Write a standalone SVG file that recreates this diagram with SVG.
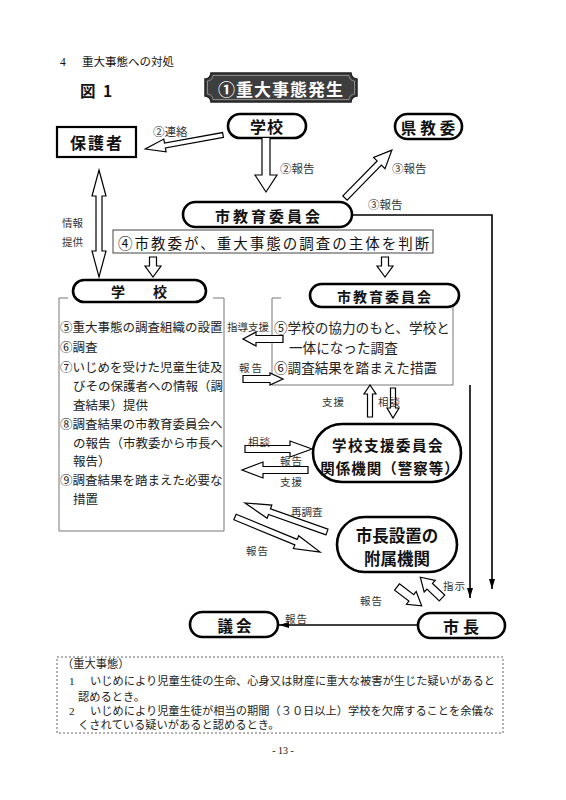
<svg xmlns="http://www.w3.org/2000/svg" width="566" height="800" viewBox="0 0 566 800">
<style>
text{font-family:'Noto Sans CJK JP','Noto Sans',sans-serif;fill:#111;dominant-baseline:central}
.serif{font-family:'Liberation Serif','Noto Sans CJK JP',serif}
.pill{fill:#fff;stroke:#000;stroke-width:2.6}
.nb{font-weight:bold;text-anchor:middle}
.ha{fill:#fff;stroke:#000;stroke-width:1.2;stroke-linejoin:miter}
.ln{fill:none;stroke:#000;stroke-width:1.6}
.lbl{font-size:10.5px;fill:#333}
.lbl2{font-size:11.5px;fill:#333}
.box{fill:none;stroke:#777;stroke-width:1}
.bt{font-size:12.5px;fill:#222}
.rt{font-size:13.6px;fill:#222}
.note{font-size:11.25px;fill:#222}
</style>
<defs>
<marker id="ah" viewBox="0 0 10 6" refX="10" refY="3" markerWidth="10" markerHeight="6" markerUnits="userSpaceOnUse" orient="auto">
<path d="M0,0 L10,3 L0,6 Z" fill="#000"/>
</marker>
</defs>
<rect width="566" height="800" fill="#fff"/>

<g id="heading">
<text class="serif" x="60" y="62" font-size="11.5">4</text>
<text class="serif" x="82" y="62" font-size="11.5">重大事態への対処</text>
<text x="80" y="90" font-size="15.5" font-weight="bold">図</text>
<text x="103" y="90" font-size="15.5" font-weight="bold">1</text>
</g>

<g id="title">
<path d="M211,73 H351 A6,6 0 0 0 357,79 V96 A6,6 0 0 0 351,102 H211 A6,6 0 0 0 205,96 V79 A6,6 0 0 0 211,73 Z" fill="#3e3e3e" stroke="#222" stroke-width="1.5"/>
<path d="M213,75.5 H349 A6,6 0 0 0 354.5,81 V94 A6,6 0 0 0 349,99.5 H213 A6,6 0 0 0 207.5,94 V81 A6,6 0 0 0 213,75.5 Z" fill="none" stroke="#9a9a9a" stroke-width="0.8"/>
<text class="nb" x="281" y="88" font-size="17" letter-spacing="1" style="fill:#fff">①重大事態発生</text>
</g>

<g id="school-top">
<rect class="pill" x="228" y="114" width="78" height="24" rx="12"/>
<text class="nb" x="267" y="126" font-size="16" letter-spacing="1">学校</text>
</g>

<g id="guardian">
<rect x="57" y="127" width="79" height="30" fill="#fff" stroke="#000" stroke-width="2.2"/>
<text class="nb" x="97" y="142" font-size="16" letter-spacing="2">保護者</text>
</g>

<g id="pref-board">
<rect class="pill" x="395" y="114" width="67" height="25" rx="12.5"/>
<text class="nb" x="430" y="126.5" font-size="15.5" letter-spacing="4">県教委</text>
</g>

<g id="city-board">
<rect class="pill" x="183" y="202" width="169" height="25" rx="12.5"/>
<text class="nb" x="269" y="215" font-size="15" letter-spacing="3">市教育委員会</text>
</g>

<g id="decision">
<rect x="113" y="230" width="320" height="23" fill="#fff" stroke="#444" stroke-width="1"/>
<text x="118" y="242" font-size="14.5" letter-spacing="2">④市教委が、重大事態の調査の主体を判断</text>
</g>

<g id="school-box">
<path class="box" d="M68,298 H59 V531 H224 V298 H213"/>
<rect class="pill" x="73" y="280" width="133" height="22" rx="11"/>
<text class="nb" x="139" y="291" font-size="14">学　　校</text>
<text class="bt" x="60" y="326">⑤重大事態の調査組織の設置</text>
<text class="bt" x="60" y="346">⑥調査</text>
<text class="bt" x="60" y="366">⑦いじめを受けた児童生徒及</text>
<text class="bt" x="73" y="385">びその保護者への情報（調</text>
<text class="bt" x="73" y="404">査結果）提供</text>
<text class="bt" x="60" y="423">⑧調査結果の市教育委員会へ</text>
<text class="bt" x="73" y="442">の報告（市教委から市長へ</text>
<text class="bt" x="73" y="460">報告）</text>
<text class="bt" x="60" y="479">⑨調査結果を踏まえた必要な</text>
<text class="bt" x="73" y="498">措置</text>
</g>

<g id="board-box">
<path class="box" d="M281,298 H272 V385 H453 V298"/>
<rect class="pill" x="310" y="284" width="149" height="23" rx="11.5"/>
<text class="nb" x="385" y="295.5" font-size="14" letter-spacing="2">市教育委員会</text>
<text class="rt" x="274" y="327">⑤学校の協力のもと、学校と</text>
<text class="rt" x="289" y="347">一体になった調査</text>
<text class="rt" x="274" y="367">⑥調査結果を踏まえた措置</text>
</g>

<g id="support-committee">
<rect class="pill" x="313" y="424" width="148" height="58" rx="29"/>
<text class="nb" x="388" y="444" font-size="14.5" letter-spacing="1.5">学校支援委員会</text>
<text class="nb" x="390" y="467" font-size="14.5" letter-spacing="1">関係機関（警察等）</text>
</g>

<g id="mayor-body">
<rect class="pill" x="337" y="517" width="120" height="55" rx="27.5"/>
<text class="nb" x="397" y="535" font-size="16.5">市長設置の</text>
<text class="nb" x="397" y="558" font-size="16.5">附属機関</text>
</g>

<g id="mayor">
<rect class="pill" x="418" y="613" width="87" height="25" rx="12.5"/>
<text class="nb" x="463" y="625.5" font-size="16" letter-spacing="4">市長</text>
</g>

<g id="assembly">
<rect class="pill" x="190" y="612" width="88" height="25" rx="12.5"/>
<text class="nb" x="236" y="624.5" font-size="15.5" letter-spacing="3">議会</text>
</g>

<g id="connectors">
<path class="ha" transform="translate(223,135) rotate(169.8)" d="M0,-2.5 H59 V-6.5 L79,0 L59,6.5 V2.5 H0 Z"/>
<path class="ha" d="M262,138 V175 H255 L266,192 L277,175 H270 V138" stroke-width="2.4"/>
<path class="ha" transform="translate(345,198) rotate(-45.6)" d="M0,-3 H49 V-8 L67,0 L49,8 V3 H0 Z"/>
<path class="ha" d="M99,170 L106,196 H102 V251 H106 L99,277 L92,251 H96 V196 H92 Z"/>
<path class="ha" d="M149.5,257 H156.5 V266 H161 L153,277 L145,266 H149.5 Z" stroke-width="1.8"/>
<path class="ha" d="M381.5,257 H388.5 V266 H393 L385,277 L377,266 H381.5 Z" stroke-width="1.8"/>
<path class="ha" d="M283,335.5 H256 V332 L243,339 L256,346 V342.5 H283 Z"/>
<path class="ha" d="M243,375.5 H270 V373 L283,379 L270,385 V382.5 H243 Z"/>
<path class="ha" d="M367.5,417 V394 H364 L370,385 L376,394 H372.5 V417 Z"/>
<path class="ha" d="M390.5,388 V408 H387 L393,418 L399,408 H395.5 V388 Z"/>
<path class="ha" d="M245,445.5 H290 V441 L312,449 L290,457 V452.5 H245 Z"/>
<path class="ha" d="M308,466.5 H263 V462 L242,470 L263,478 V473.5 H308 Z"/>
<path class="ha" transform="translate(327,532) rotate(-160.5)" d="M0,-3 H61 V-7 L87,0 L61,7 V3 H0 Z"/>
<path class="ha" transform="translate(235,517) rotate(22.4)" d="M0,-3 H66 V-7 L92,0 L66,7 V3 H0 Z"/>
<path class="ha" transform="translate(397,587) rotate(37.2)" d="M0,-4 H18 V-8 L31,0 L18,8 V4 H0 Z"/>
<path class="ha" transform="translate(442,598) rotate(-136.3)" d="M0,-4 H17 V-8 L30,0 L17,8 V4 H0 Z"/>
<path class="ln" d="M352,215 H492 V589" marker-end="url(#ah)"/>
<path class="ln" d="M470,385 V598" marker-end="url(#ah)"/>
<path class="ln" d="M418,625 H279" marker-end="url(#ah)"/>
</g>

<g id="labels">
<text class="lbl2" x="153" y="131">②連絡</text>
<text class="lbl2" x="280" y="168">②報告</text>
<text class="lbl2" x="392" y="168">③報告</text>
<text class="lbl2" x="368" y="204">③報告</text>
<text class="lbl" x="62" y="222">情報</text>
<text class="lbl" x="62" y="241">提供</text>
<text class="lbl" x="227" y="326" font-size="10">指導支援</text>
<text class="lbl" x="239" y="367" letter-spacing="2">報告</text>
<text class="lbl" x="322" y="401" letter-spacing="1">支援</text>
<text class="lbl" x="378" y="401" letter-spacing="1">相談</text>
<text class="lbl" x="248" y="441" letter-spacing="1">相談</text>
<text class="lbl" x="280" y="460" letter-spacing="1">報告</text>
<text class="lbl" x="280" y="481" letter-spacing="1">支援</text>
<text class="lbl" x="291" y="511">再調査</text>
<text class="lbl" x="246" y="550" letter-spacing="1">報告</text>
<text class="lbl" x="443" y="585" letter-spacing="1">指示</text>
<text class="lbl" x="360" y="600" letter-spacing="1">報告</text>
<text class="lbl" x="285" y="618" letter-spacing="1">報告</text>
</g>

<g id="definition">
<rect x="57" y="657" width="446" height="76" fill="none" stroke="#666" stroke-width="1" stroke-dasharray="2,2"/>
<text class="note serif" x="62" y="664">（重大事態）</text>
<text class="note serif" x="69" y="681">1</text>
<text class="note serif" x="90" y="681" textLength="405" lengthAdjust="spacingAndGlyphs">いじめにより児童生徒の生命、心身又は財産に重大な被害が生じた疑いがあると</text>
<text class="note serif" x="78" y="697">認めるとき。</text>
<text class="note serif" x="69" y="711">2</text>
<text class="note serif" x="90" y="711" textLength="404" lengthAdjust="spacingAndGlyphs">いじめにより児童生徒が相当の期間（３０日以上）学校を欠席することを余儀な</text>
<text class="note serif" x="78" y="725">くされている疑いがあると認めるとき。</text>
</g>

<text class="serif" x="283" y="750" font-size="10" text-anchor="middle">- 13 -</text>
</svg>
